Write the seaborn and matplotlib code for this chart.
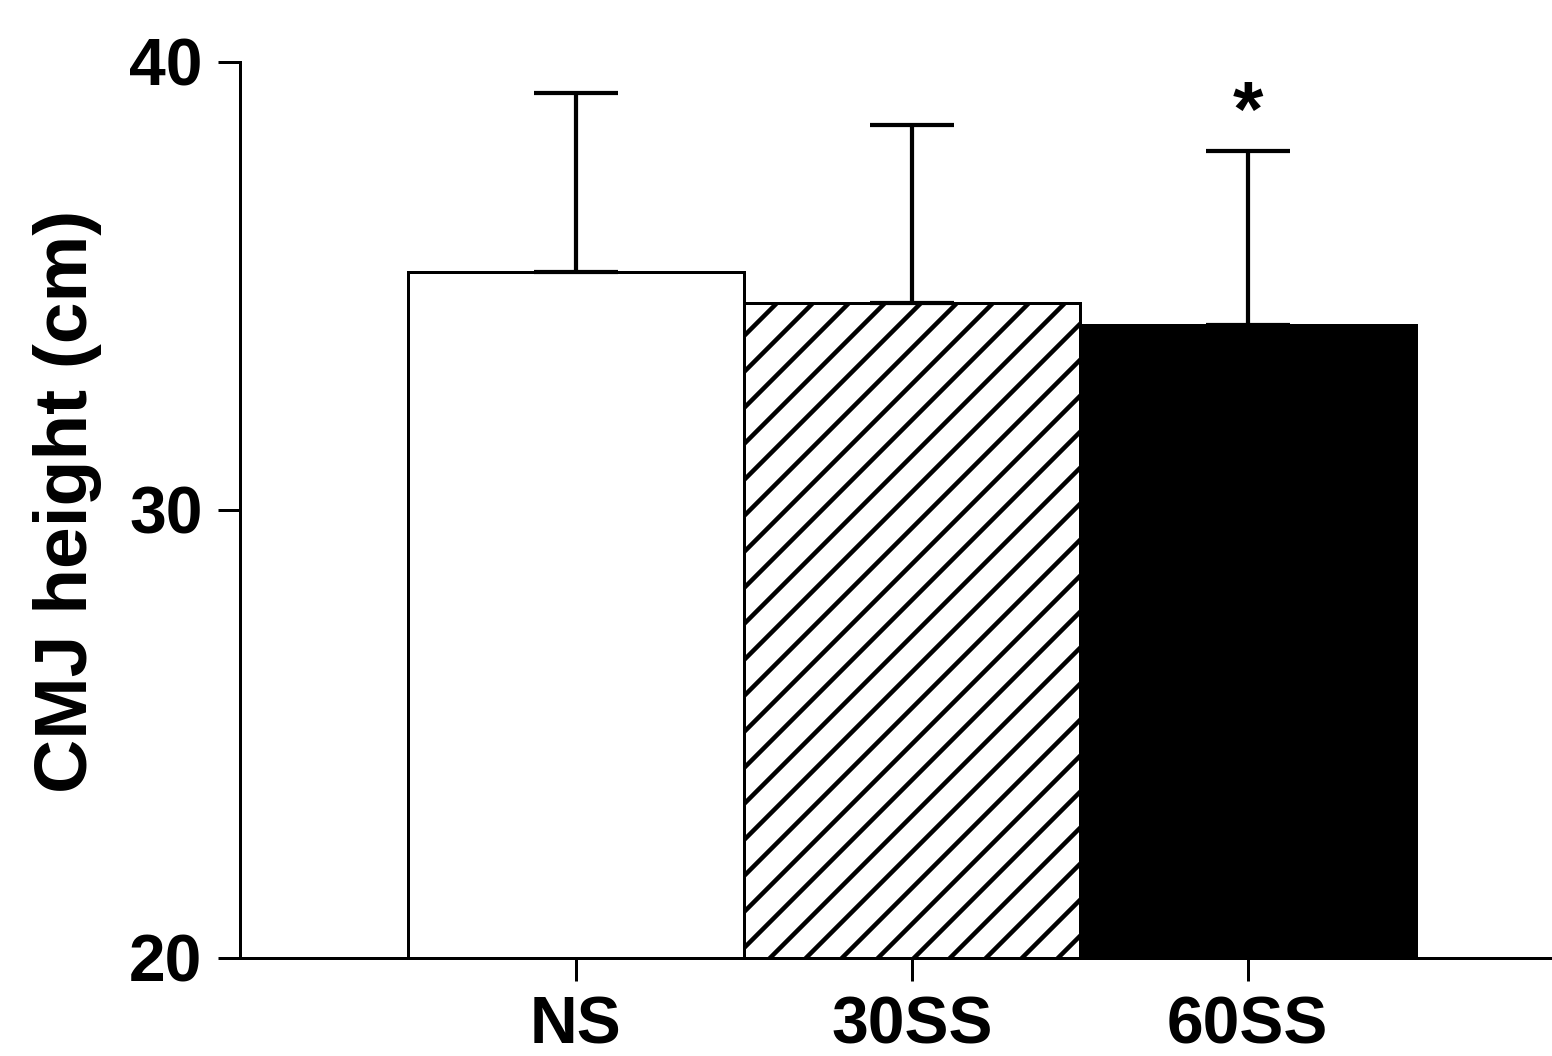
import numpy as np
import pandas as pd
import seaborn as sns
import matplotlib.pyplot as plt

# values
groups = ['NS', '30SS', '60SS']
means = [35.31, 34.62, 34.13]
sds = [4.00, 3.97, 3.88]
fills = ['white', 'white', 'black']
hatches = ['', '//', '']

sns.set_style('ticks')
plt.rcParams['font.family'] = ['Liberation Sans', 'DejaVu Sans']
plt.rcParams['font.weight'] = 'bold'
plt.rcParams['text.color'] = 'black'
plt.rcParams['hatch.linewidth'] = 1.5

df = pd.DataFrame({'group': groups, 'cmj': means})

# dpi 216 so the hatch spacing comes out like the original
fig = plt.figure(figsize = (1552 / 216, 1056 / 216), dpi = 216)
ax = fig.add_axes([240 / 1552, 1 - 958 / 1056, 1310 / 1552, 896 / 1056])

sns.barplot(
    x = 'group',
    y = 'cmj',
    data = df,
    hue = 'group',
    palette = fills,
    width = 1.0,
    edgecolor = 'black',
    linewidth = 1,
    errorbar = None,
    legend = False,
    ax = ax
)
for patch, h in zip(ax.patches, hatches):
    patch.set_hatch(h)

# upward-only SD bars
ax.errorbar(
    x = np.arange(len(groups)),
    y = means,
    yerr = [np.zeros(len(groups)), sds],
    fmt = 'none',
    ecolor = 'black',
    elinewidth = 1.4,
    capsize = 14,
    capthick = 1.4,
    zorder = 1
)

# significance mark over 60SS
ax.annotate(
    '*',
    xy = (2, means[2] + sds[2]),
    xytext = (0, 5),
    textcoords = 'offset points',
    ha = 'center',
    va = 'baseline',
    fontsize = 26,
    fontweight = 'bold',
    color = 'black'
)

ax.set_xlim(-1, 2.9)
ax.set_ylim(20, 40)
ax.set_yticks([20, 30, 40])
ax.set_xlabel('')
ax.set_ylabel('CMJ height (cm)', fontsize = 25, fontweight = 'bold', color = 'black')
ax.yaxis.set_label_coords(-0.105, 0.51)
ax.tick_params(axis = 'both', width = 1, length = 7.5, labelsize = 22,
               color = 'black', labelcolor = 'black')
ax.tick_params(axis = 'y', pad = 5)
ax.tick_params(axis = 'x', pad = 5)
for lab in ax.get_xticklabels() + ax.get_yticklabels():
    lab.set_fontweight('bold')

sns.despine(ax = ax)
for side in ['left', 'bottom']:
    ax.spines[side].set_linewidth(1)
    ax.spines[side].set_color('black')

fig.savefig('out.png', dpi = 216)
